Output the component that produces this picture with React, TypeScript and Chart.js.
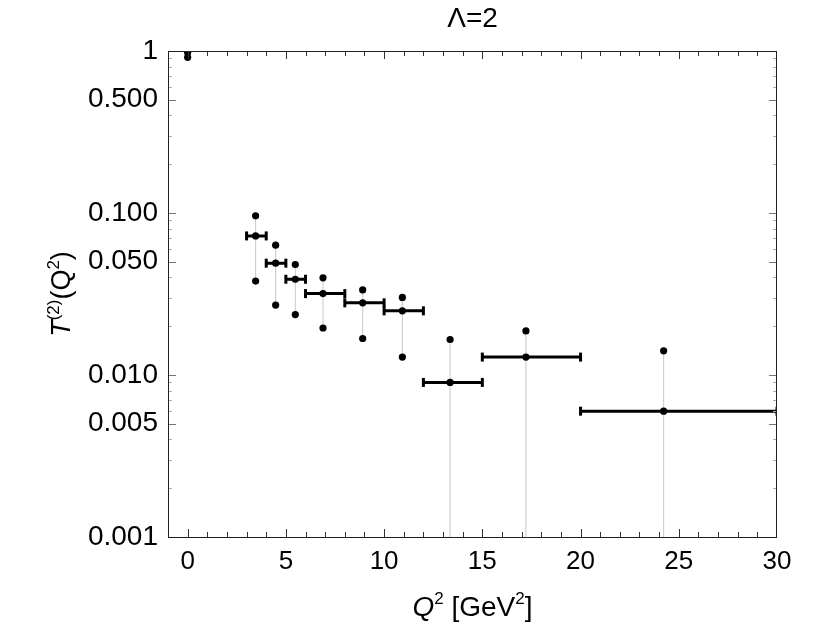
import { useEffect, useRef } from "react";
import { Chart, registerables } from "chart.js";

Chart.register(...registerables);

// Q^2 bins (GeV^2) and the bin centres where the points sit
const binLow = [0, 3, 4, 5, 6, 8, 10, 12, 15, 20];
const binHigh = [0, 4, 5, 6, 8, 10, 12, 15, 20, 30];
const q2 = [0, 3.46, 4.48, 5.48, 6.89, 8.91, 10.93, 13.36, 17.22, 24.23];

// T^(2)(Q^2): central value and the upper / lower band edges
const central = [0.98, 0.0722, 0.049, 0.039, 0.0318, 0.0279, 0.0249, 0.009, 0.0129, 0.00598];
const upper = [1.0, 0.096, 0.0633, 0.0481, 0.0398, 0.0335, 0.0301, 0.01656, 0.0187, 0.0141];
const lower = [0.914, 0.038, 0.027, 0.0236, 0.0195, 0.0168, 0.0129, 0.00095, 0.0001, 0.0001];

// axis ticks
const xTicks = [0, 5, 10, 15, 20, 25, 30];
const yTicks = [0.001, 0.005, 0.01, 0.05, 0.1, 0.5, 1];
const yTickLabels = ["0.001", "0.005", "0.010", "0.050", "0.100", "0.500", "1"];

const FONT = "'Liberation Sans', Arial, sans-serif";

type Run = { text: string; italic?: boolean; sup?: boolean };

function runFont(r: Run, size: number) {
  const s = r.sup ? Math.round(size * 0.62) : size;
  return `${r.italic ? "italic " : ""}${s}px ${FONT}`;
}

function drawRuns(ctx: CanvasRenderingContext2D, runs: Run[], cx: number, baseline: number, size: number) {
  let total = 0;
  for (const r of runs) {
    ctx.font = runFont(r, size);
    total += ctx.measureText(r.text).width;
  }
  let x = cx - total / 2;
  ctx.textAlign = "left";
  ctx.textBaseline = "alphabetic";
  for (const r of runs) {
    ctx.font = runFont(r, size);
    ctx.fillText(r.text, x, r.sup ? baseline - size * 0.42 : baseline);
    x += ctx.measureText(r.text).width;
  }
}

// Frame with inward ticks on all four sides, plus the title and axis titles
const framePlugin = {
  id: "frameTicks",
  afterDraw(chart: any) {
    const { ctx, chartArea: a, scales } = chart;
    const xs = scales.x;
    const ys = scales.y;
    ctx.save();

    // x ticks (every unit, longer at the labelled values)
    for (let v = Math.ceil(xs.min); v <= xs.max; v++) {
      const px = Math.round(xs.getPixelForValue(v)) + 0.5;
      if (px <= a.left + 1 || px >= a.right - 1) continue;
      const len = xTicks.includes(v) ? 8 : 5;
      ctx.strokeStyle = "#333";
      ctx.lineWidth = 1;
      ctx.beginPath();
      ctx.moveTo(px, a.bottom);
      ctx.lineTo(px, a.bottom - len);
      ctx.moveTo(px, a.top);
      ctx.lineTo(px, a.top + len);
      ctx.stroke();
    }

    // y ticks: labelled values longer, the rest of each decade short and light
    for (let e = -3; e <= 0; e++) {
      for (let m = 1; m <= 9; m++) {
        const v = m * Math.pow(10, e);
        if (v < ys.min * 0.999 || v > ys.max * 1.001) continue;
        const py = Math.round(ys.getPixelForValue(v)) + 0.5;
        if (py <= a.top + 1 || py >= a.bottom - 1) continue;
        const major = yTicks.some((t) => Math.abs(t - v) / t < 1e-6);
        ctx.strokeStyle = major ? "#777" : "#aaa";
        const len = major ? 8 : 4;
        ctx.beginPath();
        ctx.moveTo(a.left, py);
        ctx.lineTo(a.left + len, py);
        ctx.moveTo(a.right, py);
        ctx.lineTo(a.right - len, py);
        ctx.stroke();
      }
    }

    // frame
    ctx.strokeStyle = "#222";
    ctx.lineWidth = 1;
    ctx.strokeRect(Math.round(a.left) + 0.5, Math.round(a.top) + 0.5,
      Math.round(a.right - a.left) - 1, Math.round(a.bottom - a.top));

    ctx.fillStyle = "#000";
    // title
    drawRuns(ctx, [{ text: "Λ=2" }], (a.left + a.right) / 2, 27, 28);
    // x axis title
    drawRuns(
      ctx,
      [{ text: "Q", italic: true }, { text: "2", sup: true }, { text: " [GeV" }, { text: "2", sup: true }, { text: "]" }],
      (a.left + a.right) / 2,
      616,
      28
    );
    // y axis title (rotated)
    ctx.save();
    ctx.translate(70, (a.top + a.bottom) / 2);
    ctx.rotate(-Math.PI / 2);
    drawRuns(
      ctx,
      [{ text: "T", italic: true }, { text: "(2)", sup: true }, { text: "(Q" }, { text: "2", sup: true }, { text: ")" }],
      0,
      0,
      27
    );
    ctx.restore();
    ctx.restore();
  },
};

export default function App() {
  const ref = useRef<HTMLCanvasElement | null>(null);

  useEffect(() => {
    if (!ref.current) return;

    const bands: any[] = [];
    const bars: any[] = [];
    q2.forEach((q, i) => {
      bands.push({ x: q, y: lower[i] }, { x: q, y: upper[i] }, { x: q, y: null });
      if (binHigh[i] > binLow[i]) {
        bars.push({ x: binLow[i], y: central[i] }, { x: binHigh[i], y: central[i] }, { x: binHigh[i], y: null });
      }
    });

    const dot = {
      pointRadius: 3.6,
      pointHoverRadius: 3.6,
      pointBackgroundColor: "#000",
      pointBorderWidth: 0,
      showLine: false,
    };

    const chart = new Chart(ref.current, {
      type: "scatter",
      data: {
        datasets: [
          {
            label: "central",
            data: q2.map((q, i) => ({ x: q, y: central[i] })),
            order: 1,
            ...dot,
          },
          {
            label: "upper",
            data: q2.map((q, i) => ({ x: q, y: upper[i] })),
            order: 2,
            ...dot,
          },
          {
            label: "lower",
            data: q2.map((q, i) => ({ x: q, y: lower[i] })),
            order: 2,
            clip: { left: 0, top: 0, right: 0, bottom: 3 },
            ...dot,
          },
          {
            label: "bins",
            data: bars,
            order: 3,
            showLine: true,
            spanGaps: false,
            borderColor: "#000",
            borderWidth: 3,
            pointStyle: "line",
            rotation: 90,
            pointRadius: 4.5,
            pointHoverRadius: 4.5,
            pointBorderColor: "#000",
            pointBorderWidth: 3,
          },
          {
            label: "band",
            data: bands,
            order: 4,
            showLine: true,
            spanGaps: false,
            borderColor: "#c8c8c8",
            borderWidth: 1,
            pointRadius: 0,
            pointHoverRadius: 0,
          },
        ] as any,
      },
      options: {
        animation: false,
        responsive: false,
        devicePixelRatio: 1,
        events: [],
        layout: { padding: { top: 51, right: 57, left: 0, bottom: 0 } },
        plugins: { legend: { display: false }, tooltip: { enabled: false }, title: { display: false } },
        scales: {
          x: {
            type: "linear",
            min: -1,
            max: 30,
            afterBuildTicks: (s: any) => {
              s.ticks = xTicks.map((v) => ({ value: v }));
            },
            afterFit: (s: any) => {
              s.height = 88;
            },
            grid: { display: false, drawTicks: false },
            border: { display: false },
            ticks: {
              padding: 9,
              color: "#000",
              font: { family: FONT, size: 26 },
              maxRotation: 0,
              autoSkip: false,
              callback: (v: any) => String(v),
            },
          },
          y: {
            type: "logarithmic",
            min: 0.001,
            max: 1,
            afterBuildTicks: (s: any) => {
              s.ticks = yTicks.map((v) => ({ value: v }));
            },
            afterFit: (s: any) => {
              s.width = 168;
            },
            grid: { display: false, drawTicks: false },
            border: { display: false },
            ticks: {
              padding: 10,
              color: "#000",
              font: { family: FONT, size: 28 },
              autoSkip: false,
              callback: (v: any) => {
                const i = yTicks.findIndex((t) => Math.abs(t - Number(v)) / t < 1e-6);
                return i >= 0 ? yTickLabels[i] : "";
              },
            },
          },
        },
      },
      plugins: [framePlugin],
    });

    return () => chart.destroy();
  }, []);

  return (
    <div style={{ position: "absolute", left: 0, top: 0, width: 834, height: 625, background: "#fff" }}>
      <canvas ref={ref} width={834} height={625} style={{ display: "block", width: 834, height: 625 }} />
    </div>
  );
}
